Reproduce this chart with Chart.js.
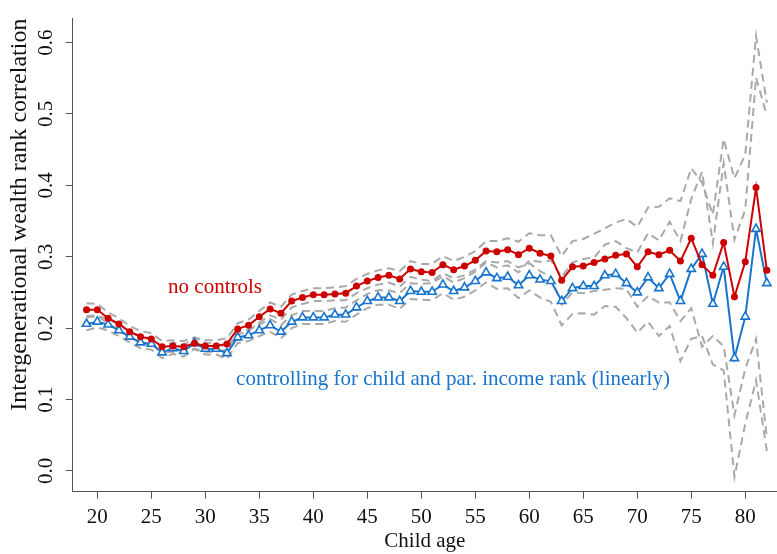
<!DOCTYPE html>
<html>
<head>
<meta charset="utf-8">
<script src="https://cdn.jsdelivr.net/npm/chart.js@4.4.1/dist/chart.umd.min.js"></script>
<style>
  html, body { margin: 0; padding: 0; background: #fff; }
  #wrap { width: 777px; height: 554px; }
</style>
</head>
<body>
<div id="wrap"><canvas id="corrChart" width="777" height="554"></canvas></div>
<script>
// child age (years)
const ages = [19, 20, 21, 22, 23, 24, 25, 26, 27, 28, 29, 30, 31, 32, 33, 34, 35, 36, 37, 38,
  39, 40, 41, 42, 43, 44, 45, 46, 47, 48, 49, 50, 51, 52, 53, 54, 55, 56, 57, 58,
  59, 60, 61, 62, 63, 64, 65, 66, 67, 68, 69, 70, 71, 72, 73, 74, 75, 76, 77, 78,
  79, 80, 81, 82];

// rank correlation, no controls
const noControls = [0.226, 0.226, 0.214, 0.206, 0.195, 0.188, 0.185, 0.174, 0.175, 0.174,
  0.179, 0.175, 0.175, 0.178, 0.199, 0.204, 0.216, 0.227, 0.221, 0.238,
  0.243, 0.247, 0.247, 0.248, 0.249, 0.259, 0.266, 0.271, 0.274, 0.269,
  0.283, 0.279, 0.278, 0.289, 0.282, 0.287, 0.295, 0.308, 0.307, 0.310,
  0.303, 0.312, 0.305, 0.301, 0.267, 0.286, 0.287, 0.292, 0.297, 0.302,
  0.304, 0.286, 0.307, 0.303, 0.309, 0.294, 0.326, 0.289, 0.274, 0.320,
  0.244, 0.293, 0.397, 0.281];

// rank correlation, controlling for child and parent income rank
const withControls = [0.206, 0.209, 0.205, 0.197, 0.188, 0.180, 0.178, 0.166, 0.172, 0.168,
  0.179, 0.171, 0.171, 0.165, 0.187, 0.190, 0.197, 0.204, 0.195, 0.209,
  0.215, 0.215, 0.215, 0.219, 0.219, 0.229, 0.238, 0.243, 0.243, 0.238,
  0.252, 0.251, 0.251, 0.261, 0.252, 0.257, 0.266, 0.278, 0.270, 0.272,
  0.260, 0.274, 0.268, 0.266, 0.238, 0.256, 0.259, 0.259, 0.274, 0.276,
  0.263, 0.250, 0.271, 0.256, 0.276, 0.238, 0.283, 0.304, 0.234, 0.286,
  0.158, 0.216, 0.339, 0.263];

// half width of the 95% confidence band
const ciHalfWidth = [0.009, 0.008, 0.008, 0.008, 0.008, 0.008, 0.008, 0.008, 0.008, 0.008,
  0.008, 0.008, 0.008, 0.008, 0.008, 0.008, 0.008, 0.009, 0.009, 0.009,
  0.009, 0.009, 0.009, 0.009, 0.010, 0.010, 0.010, 0.010, 0.010, 0.011,
  0.011, 0.011, 0.012, 0.012, 0.012, 0.013, 0.013, 0.014, 0.015, 0.016,
  0.018, 0.021, 0.025, 0.029, 0.034, 0.036, 0.038, 0.040, 0.043, 0.046,
  0.049, 0.056, 0.062, 0.067, 0.073, 0.084, 0.098, 0.115, 0.085, 0.145,
  0.166, 0.150, 0.212, 0.235];

const xTicks = [20, 25, 30, 35, 40, 45, 50, 55, 60, 65, 70, 75, 80];
const yTicks = [0, 0.1, 0.2, 0.3, 0.4, 0.5, 0.6];

const FONT = "'Liberation Serif', 'Times New Roman', serif";
const RED = '#cd0000';
const BLUE = '#1874cd';
const GREY = '#a9a9a9';
const AXIS = '#555';

function series(vals, side) {
  return ages.map((a, i) => ({ x: a, y: vals[i] + side * ciHalfWidth[i] }));
}

function band(vals, side) {
  return {
    data: series(vals, side),
    borderColor: GREY,
    borderWidth: 2,
    borderDash: [8, 5],
    pointRadius: 0,
    fill: false
  };
}

// text labels next to the lines
const lineLabels = {
  id: 'lineLabels',
  afterDatasetsDraw(chart) {
    const { ctx, scales: { x, y } } = chart;
    ctx.save();
    ctx.font = '21px ' + FONT;
    ctx.textBaseline = 'middle';
    ctx.fillStyle = RED;
    ctx.textAlign = 'center';
    ctx.fillText('no controls', x.getPixelForValue(30.9), y.getPixelForValue(0.257));
    ctx.fillStyle = BLUE;
    ctx.textAlign = 'left';
    ctx.fillText('controlling for child and par. income rank (linearly)',
      x.getPixelForValue(32.85), y.getPixelForValue(0.128));
    ctx.restore();
  }
};

new Chart(document.getElementById('corrChart'), {
  type: 'line',
  data: {
    datasets: [
      {
        data: series(noControls, 0),
        borderColor: RED,
        borderWidth: 2,
        pointRadius: 3.5,
        pointBackgroundColor: RED,
        pointBorderWidth: 0
      },
      {
        data: series(withControls, 0),
        borderColor: BLUE,
        borderWidth: 2,
        pointStyle: 'triangle',
        pointRadius: 4.8,
        pointBorderColor: BLUE,
        pointBorderWidth: 1.6,
        pointBackgroundColor: '#fff'
      },
      band(noControls, 1),
      band(noControls, -1),
      band(withControls, 1),
      band(withControls, -1)
    ]
  },
  options: {
    responsive: false,
    animation: false,
    devicePixelRatio: 1,
    layout: { autoPadding: false, padding: { top: 8, right: 0, left: 0, bottom: 0 } },
    plugins: { legend: { display: false }, tooltip: { enabled: false } },
    scales: {
      x: {
        type: 'linear',
        min: 17.72,
        max: 82.94,
        afterBuildTicks: s => { s.ticks = xTicks.map(v => ({ value: v })); },
        afterFit: s => { s.height = 62.3; },
        border: { display: true, color: AXIS, width: 1 },
        grid: { drawOnChartArea: false, drawTicks: true, tickLength: 7, color: AXIS },
        ticks: { color: '#111', font: { family: FONT, size: 21 }, padding: 6, maxRotation: 0 },
        title: { display: true, text: 'Child age', color: '#111',
          font: { family: FONT, size: 21 }, padding: { top: 0, bottom: 0 } }
      },
      y: {
        type: 'linear',
        min: -0.029,
        max: 0.6336,
        afterBuildTicks: s => { s.ticks = yTicks.map(v => ({ value: v })); },
        afterFit: s => { s.width = 72.7; },
        border: { display: true, color: AXIS, width: 1 },
        grid: { drawOnChartArea: false, drawTicks: true, tickLength: 7, color: AXIS },
        ticks: { color: '#111', font: { family: FONT, size: 21 }, padding: 6,
          minRotation: 90, maxRotation: 90, crossAlign: 'center',
          callback: v => v.toFixed(1) },
        title: { display: true, text: 'Intergenerational wealth rank correlation', color: '#111',
          align: 'end', font: { family: FONT, size: 24 }, padding: { top: 5, bottom: 0 } }
      }
    }
  },
  plugins: [lineLabels]
});
</script>
</body>
</html>
